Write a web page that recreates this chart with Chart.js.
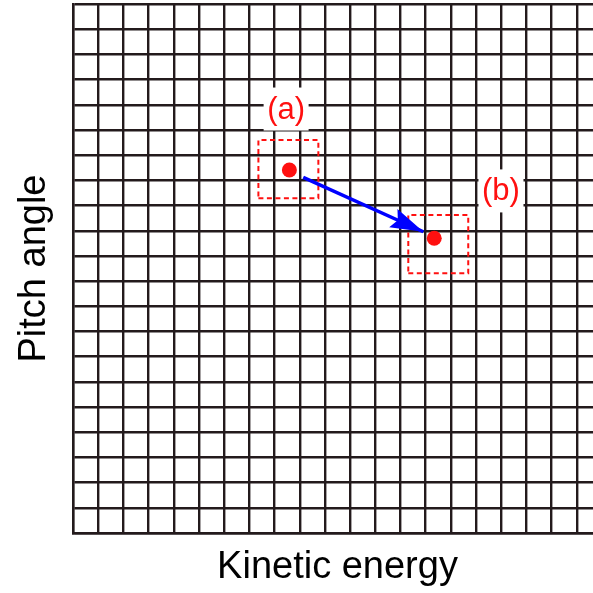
<!DOCTYPE html>
<html><head><meta charset="utf-8">
<script src="https://cdn.jsdelivr.net/npm/chart.js@4.4.1/dist/chart.umd.min.js"></script>
<style>html,body{margin:0;padding:0;background:#fff;overflow:hidden;width:593px;height:593px}#wrap{position:relative;width:602px;height:593px}canvas{display:block}</style>
</head><body>
<div id="wrap"><canvas id="c"></canvas></div>
<script>
const xTitle = 'Kinetic energy';
const yTitle = 'Pitch angle';
const xTickValues = [0,1,2,3,4,5,6,7,8,9,10,11,12,13,14,15,16,17,18,19,20,21];
const yTickValues = [0,1,2,3,4,5,6,7,8,9,10,11,12,13,14,15,16,17,18,19,20,21];
const pointLabels = ['(a)', '(b)'];
const pointEnergy = [8.59, 14.34];
const pointPitch = [14.41, 11.70];
const boxEnergyMin = [7.36, 13.31];
const boxEnergyMax = [9.74, 15.69];
const boxPitchMin = [13.29, 10.31];
const boxPitchMax = [15.60, 12.62];
const labelEnergy = [8.46, 16.99];
const labelPitch = [16.83, 13.58];
const arrowEnergy = [9.14, 13.91];
const arrowPitch = [14.12, 11.96];

const GRID = '#231a1c';
const RED = '#ff1010';
const BLUE = '#0000ff';
const FONT = '"Liberation Sans", Arial, Helvetica, sans-serif';

const boxData = i => [
  {x: boxEnergyMin[i], y: boxPitchMin[i]},
  {x: boxEnergyMax[i], y: boxPitchMin[i]},
  {x: boxEnergyMax[i], y: boxPitchMax[i]},
  {x: boxEnergyMin[i], y: boxPitchMax[i]},
  {x: boxEnergyMin[i], y: boxPitchMin[i]}
];

const annot = {
  id: 'annot',
  afterDatasetsDraw(chart) {
    const {ctx, scales: {x, y}} = chart;
    ctx.save();
    const x0 = x.getPixelForValue(arrowEnergy[0]), y0 = y.getPixelForValue(arrowPitch[0]);
    const x1 = x.getPixelForValue(arrowEnergy[1]), y1 = y.getPixelForValue(arrowPitch[1]);
    const a = Math.atan2(y1 - y0, x1 - x0);
    const c = Math.cos(a), s = Math.sin(a);
    const L = 33, W = 10;
    ctx.fillStyle = BLUE;
    ctx.beginPath();
    ctx.moveTo(x1, y1);
    ctx.lineTo(x1 - L * c + W * s, y1 - L * s - W * c);
    ctx.lineTo(x1 - 0.85 * L * c, y1 - 0.85 * L * s);
    ctx.lineTo(x1 - L * c - W * s, y1 - L * s + W * c);
    ctx.closePath();
    ctx.fill();
    ctx.font = '31px ' + FONT;
    ctx.textAlign = 'center';
    ctx.textBaseline = 'middle';
    pointLabels.forEach((t, i) => {
      const px = x.getPixelForValue(labelEnergy[i]);
      const py = y.getPixelForValue(labelPitch[i]);
      ctx.fillStyle = '#fff';
      ctx.fillRect(px - 22.5, py - 21.5, 45, 43);
      ctx.fillStyle = RED;
      ctx.fillText(t, px, py + 1);
    });
    ctx.restore();
  }
};

const axisCommon = {
  type: 'linear',
  min: 0,
  max: 21,
  ticks: {display: false},
  grid: {color: GRID, lineWidth: 2.4, drawTicks: false},
  border: {display: true, color: GRID, width: 2.4}
};

new Chart(document.getElementById('c'), {
  type: 'scatter',
  data: {
    datasets: [
      {
        data: pointEnergy.map((v, i) => ({x: v, y: pointPitch[i]})),
        pointRadius: 7.5,
        pointBackgroundColor: RED,
        pointBorderWidth: 0,
        showLine: false
      },
      {
        data: arrowEnergy.map((v, i) => ({x: v, y: arrowPitch[i]})),
        showLine: true,
        borderColor: BLUE,
        borderWidth: 3.5,
        pointRadius: 0
      },
      {
        data: boxData(0), showLine: true, borderColor: RED, borderWidth: 2,
        borderDash: [5, 3.5], pointRadius: 0, fill: false
      },
      {
        data: boxData(1), showLine: true, borderColor: RED, borderWidth: 2,
        borderDash: [5, 3.5], pointRadius: 0, fill: false
      }
    ]
  },
  options: {
    responsive: true,
    maintainAspectRatio: false,
    animation: false,
    events: [],
    layout: {autoPadding: false, padding: {top: 4, left: 0, right: 0, bottom: 0}},
    plugins: {legend: {display: false}, tooltip: {enabled: false}},
    scales: {
      x: Object.assign({}, axisCommon, {
        position: 'bottom',
        afterBuildTicks: s => { s.ticks = xTickValues.map(v => ({value: v})); },
        afterFit: s => { s.height = 60; },
        title: {display: true, text: xTitle, color: '#000',
          font: {family: FONT, size: 38}, padding: {top: 0, bottom: 3}}
      }),
      y: Object.assign({}, axisCommon, {
        position: 'left',
        afterBuildTicks: s => { s.ticks = yTickValues.map(v => ({value: v})); },
        afterFit: s => { s.width = 73; },
        title: {display: true, text: yTitle, color: '#000',
          font: {family: FONT, size: 38}, padding: {top: 12, bottom: 0}}
      })
    }
  },
  plugins: [annot]
});
</script>
</body></html>
